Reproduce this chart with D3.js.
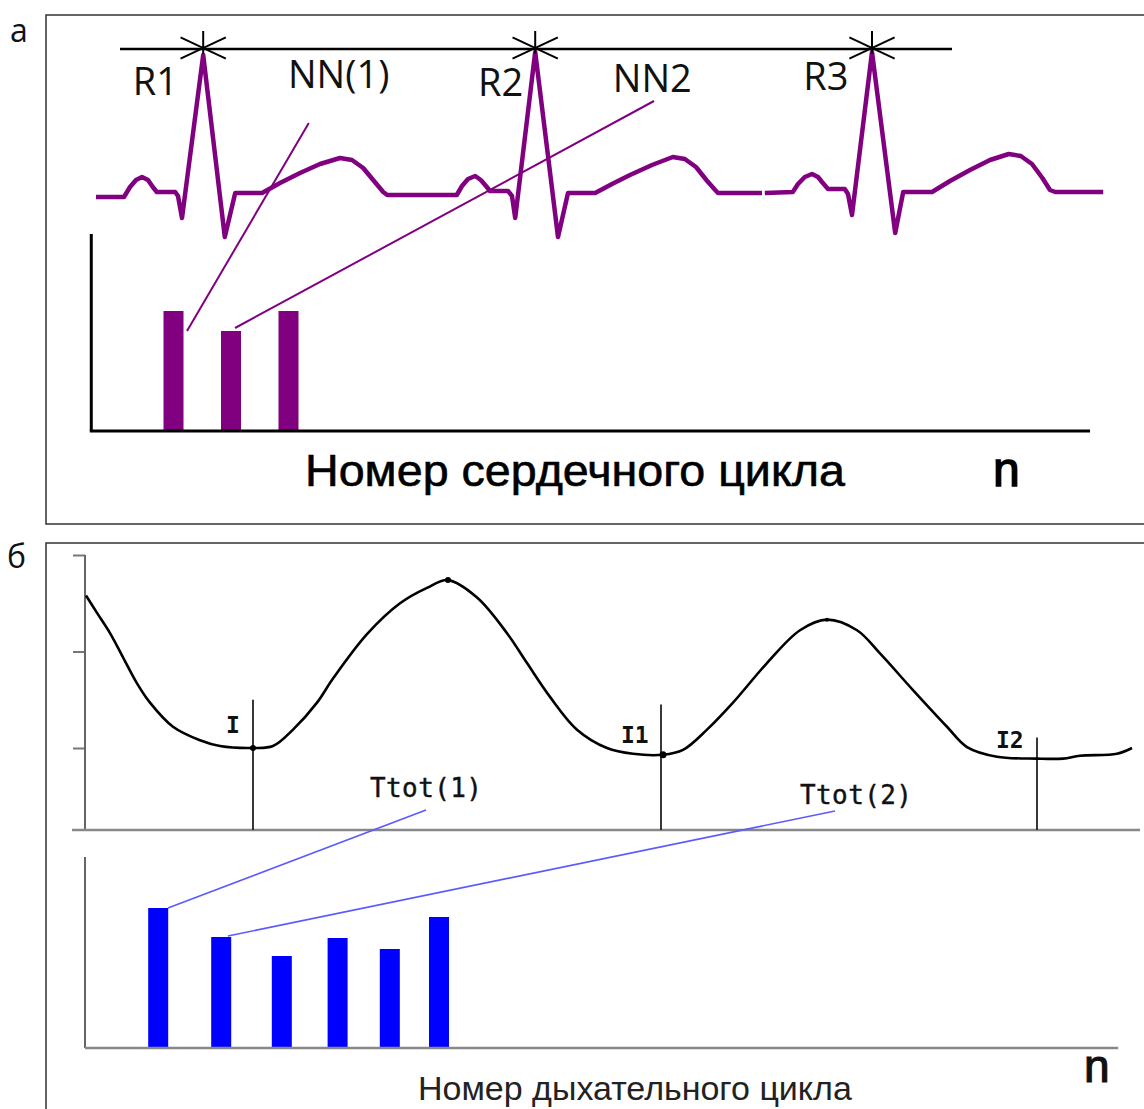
<!DOCTYPE html>
<html>
<head>
<meta charset="utf-8">
<script src="https://cdn.jsdelivr.net/npm/d3@7"></script>
<style>
html,body{margin:0;padding:0;background:#fff;}
svg{display:block;}
</style>
</head>
<body>
<script>
// ---------- DATA ----------
// Panel а: ECG (time ms, amplitude mV); null = gap in trace
const ecgTime = [0,70,85,100,115,130,142,152,198,205,215,268,322,348,415,460,510,560,610,640,668,695,718,728,
  902,915,930,948,962,975,985,1030,1040,1048,1098,1155,1180,1248,1290,1335,1390,1442,1472,1500,1528,1548,1555,1665,null,
  1672,1742,1755,1772,1790,1805,1815,1830,1872,1880,1890,1940,1998,2018,2090,2135,2185,2235,2282,2312,2340,2366,2385,2398,2518];
const ecgVolt = [-0.02,-0.02,0.08,0.15,0.18,0.15,0.08,0.03,0.03,-0.01,-0.23,1.40,-0.42,0.02,0.02,0.12,0.22,0.31,0.37,0.35,0.27,0.14,0.03,0.0,
  0.0,0.09,0.16,0.19,0.15,0.09,0.04,0.04,-0.01,-0.23,1.43,-0.42,0.02,0.02,0.11,0.20,0.30,0.38,0.36,0.28,0.14,0.05,0.02,0.02,null,
  0.02,0.03,0.11,0.18,0.21,0.18,0.13,0.06,0.06,0.01,-0.20,1.43,-0.38,0.03,0.03,0.14,0.25,0.35,0.41,0.39,0.31,0.17,0.05,0.03,0.03];
const rPeakTimes = [268, 1098, 1940];
const rLevel = 1.46;              // level of the R-detection line
const rLineSpan = [60, 2140];
const rLabels = ["R1", "R2", "R3"];
const rLabelPos = [[92, 1.0], [955, 0.99], [1768, 1.05]];
const nnLabels = ["NN(1)", "NN2"];
const nnLabelPos = [[480, 1.07], [1292, 1.03]];
// NN interval bars
const nnCycles = [1, 2, 3];
const nnValues = [0.96, 0.80, 0.96];
// links: [ecg t, ecg v, cycle n, bar value]
const nnLinks = [[532, 0.72, 1.235, 0.80], [1395, 0.94, 2.07, 0.824]];

// Panel б: respiration (time s, volume units)
const respTime = [0,0.11,0.24,0.37,0.51,0.64,0.87,1.14,1.34,1.67,1.87,2.07,2.31,2.47,2.81,3.14,3.41,3.62,3.91,4.21,4.41,4.64,4.91,5.21,5.47,5.77,5.97,6.21,6.47,6.81,7.14,7.41,7.71,7.94,8.27,8.61,8.81,9.11,9.51,9.77,9.94,10.31,10.46];
const respVol  = [2.58,2.40,2.19,1.94,1.67,1.47,1.22,1.08,1.02,1.00,1.02,1.19,1.47,1.72,2.18,2.50,2.66,2.74,2.56,2.19,1.88,1.53,1.19,1.00,0.94,0.93,0.98,1.19,1.47,1.88,2.22,2.33,2.22,1.98,1.60,1.22,1.01,0.91,0.89,0.89,0.92,0.94,1.00];
const respTicks = [1, 2, 3];
const respBase = 0.15;
const inspLabels = ["I", "I1", "I2"];
const inspTimes = [1.67, 5.75, 9.51];
const inspMarkTop = [1.50, 1.45, 1.11];
const inspLabelPos = [[1.40, 1.155], [5.35, 1.05], [9.10, 1.0]];
const respDots = [[1.67, 1.00, 3], [3.62, 2.74, 3], [5.77, 0.93, 3.5], [7.41, 2.33, 2]];
const ttotLabels = ["Ttot(1)", "Ttot(2)"];
const ttotLabelPos = [[2.84, 0.49], [7.14, 0.42]];
// Ttot bars
const ttotCycles = [1.22, 2.27, 3.28, 4.21, 5.08, 5.90];
const ttotValues = [5.6, 4.44, 3.68, 4.4, 3.96, 5.24];
const ttotLinks = [[3.40, 0.357, 1.383, 5.6], [7.49, 0.347, 2.383, 4.48]];

// ---------- DRAWING ----------
const W = 1144, H = 1109;
const svg = d3.select("body").append("svg").attr("width", W).attr("height", H);
const purple = "#800080", blue = "#0000ff", linkBlue = "#5a5aff";

// panel frames
svg.append("rect").attr("x", 46).attr("y", 15).attr("width", 1120).attr("height", 509)
  .attr("fill", "none").attr("stroke", "#333").attr("stroke-width", 1.5);
svg.append("rect").attr("x", 46).attr("y", 543).attr("width", 1120).attr("height", 600)
  .attr("fill", "none").attr("stroke", "#333").attr("stroke-width", 1.5);
svg.append("text").attr("x", 10).attr("y", 42).text("а")
  .style("font-family", "Open Sans").style("font-size", "32px").attr("fill", "#111");
svg.append("text").attr("x", 7).attr("y", 568).text("б")
  .style("font-family", "Open Sans").style("font-size", "32px").attr("fill", "#111");

// ---- Panel а ----
const xT = d3.scaleLinear().domain([0, 2517.5]).range([96, 1103]);
const yV = d3.scaleLinear().domain([0, 1]).range([195, 95]);
const xN = d3.scaleLinear().domain([0, 1]).range([116, 173.5]);
const yN = d3.scaleLinear().domain([0, 1]).range([431, 306]);

// R detection line
svg.append("line").attr("x1", xT(rLineSpan[0])).attr("x2", xT(rLineSpan[1]))
  .attr("y1", yV(rLevel)).attr("y2", yV(rLevel)).attr("stroke", "#000").attr("stroke-width", 2.5);

// ECG trace
const ecg = ecgTime.map((t, i) => [t, ecgVolt[i]]);
svg.append("path").datum(ecg)
  .attr("d", d3.line().defined(d => d[0] !== null).x(d => xT(d[0])).y(d => yV(d[1])))
  .attr("fill", "none").attr("stroke", purple).attr("stroke-width", 4.5)
  .attr("stroke-linejoin", "round");

// asterisks
rPeakTimes.forEach(t => {
  const cx = xT(t), cy = yV(rLevel) - 1;
  const g = svg.append("g").attr("stroke", "#000").attr("stroke-width", 2);
  g.append("line").attr("x1", cx).attr("x2", cx).attr("y1", cy - 17).attr("y2", cy + 6);
  const a = 25 * Math.PI / 180, L = 25;
  g.append("line").attr("x1", cx - L * Math.cos(a)).attr("y1", cy - L * Math.sin(a))
    .attr("x2", cx + L * Math.cos(a)).attr("y2", cy + L * Math.sin(a));
  g.append("line").attr("x1", cx - L * Math.cos(a)).attr("y1", cy + L * Math.sin(a))
    .attr("x2", cx + L * Math.cos(a)).attr("y2", cy - L * Math.sin(a));
});

// labels
rLabels.forEach((s, i) => svg.append("text").attr("x", xT(rLabelPos[i][0])).attr("y", yV(rLabelPos[i][1]))
  .text(s).style("font-family", "Open Sans").style("font-size", "38px").attr("fill", "#111"));
nnLabels.forEach((s, i) => svg.append("text").attr("x", xT(nnLabelPos[i][0])).attr("y", yV(nnLabelPos[i][1]))
  .text(s).style("font-family", "Open Sans").style("font-size", "38px").attr("fill", "#111"));

// NN bars
svg.selectAll(".nnbar").data(nnCycles).enter().append("rect")
  .attr("x", d => xN(d) - 10).attr("width", 20)
  .attr("y", (d, i) => yN(nnValues[i])).attr("height", (d, i) => yN(0) - yN(nnValues[i]))
  .attr("fill", purple);

// NN axes
svg.append("line").attr("x1", xN(-0.43)).attr("x2", xN(-0.43)).attr("y1", yN(0)).attr("y2", yN(1.576))
  .attr("stroke", "#000").attr("stroke-width", 3);
svg.append("line").attr("x1", xN(-0.43) - 1.5).attr("x2", xN(16.94)).attr("y1", yN(0)).attr("y2", yN(0))
  .attr("stroke", "#000").attr("stroke-width", 3);

// NN links
nnLinks.forEach(l => svg.append("line").attr("x1", xT(l[0])).attr("y1", yV(l[1]))
  .attr("x2", xN(l[2])).attr("y2", yN(l[3])).attr("stroke", purple).attr("stroke-width", 2));

svg.append("text").attr("x", 305).attr("y", 486).text("Номер сердечного цикла")
  .attr("textLength", 540).attr("lengthAdjust", "spacingAndGlyphs")
  .style("font-family", "Liberation Sans").style("font-size", "44px")
  .attr("fill", "#000").attr("stroke", "#000").attr("stroke-width", 0.6);
svg.append("text").attr("x", 993).attr("y", 486).text("n")
  .style("font-family", "Liberation Sans").style("font-size", "48px")
  .attr("fill", "#000").attr("stroke", "#000").attr("stroke-width", 1.4);

// ---- Panel б ----
const xR = d3.scaleLinear().domain([0, 1]).range([86, 186]);
const yR = d3.scaleLinear().domain([1, 3]).range([748, 555]);
const xB = d3.scaleLinear().domain([0, 1]).range([85, 145]);
const yB = d3.scaleLinear().domain([0, 1]).range([1048, 1023]);

// resp axes
svg.append("g").attr("transform", `translate(${xR(-0.01)},0)`)
  .call(d3.axisLeft(yR).tickValues(respTicks).tickSize(12).tickSizeOuter(0).tickFormat(""))
  .call(g => g.select(".domain").remove())
  .call(g => g.selectAll("line").attr("stroke", "#777").attr("stroke-width", 2));
svg.append("line").attr("x1", xR(-0.01)).attr("x2", xR(-0.01)).attr("y1", yR(respBase)).attr("y2", yR(3))
  .attr("stroke", "#666").attr("stroke-width", 2);
svg.append("line").attr("x1", xR(-0.14)).attr("x2", xR(10.54)).attr("y1", yR(respBase)).attr("y2", yR(respBase))
  .attr("stroke", "#888").attr("stroke-width", 2.5);

// inspiration markers
inspTimes.forEach((t, i) => svg.append("line").attr("x1", xR(t)).attr("x2", xR(t))
  .attr("y1", yR(inspMarkTop[i])).attr("y2", yR(respBase)).attr("stroke", "#222").attr("stroke-width", 1.8));

// resp curve
const resp = respTime.map((t, i) => [t, respVol[i]]);
svg.append("path").datum(resp)
  .attr("d", d3.line().curve(d3.curveCatmullRom).x(d => xR(d[0])).y(d => yR(d[1])))
  .attr("fill", "none").attr("stroke", "#000").attr("stroke-width", 2.6);
respDots.forEach(d => svg.append("circle").attr("cx", xR(d[0])).attr("cy", yR(d[1])).attr("r", d[2]).attr("fill", "#000"));

inspLabels.forEach((s, i) => svg.append("text").attr("x", xR(inspLabelPos[i][0])).attr("y", yR(inspLabelPos[i][1]))
  .text(s).style("font-family", "DejaVu Sans Mono").style("font-weight", "bold").style("font-size", "23px").attr("fill", "#111"));
ttotLabels.forEach((s, i) => svg.append("text").attr("x", xR(ttotLabelPos[i][0])).attr("y", yR(ttotLabelPos[i][1]))
  .text(s).attr("textLength", 112).style("font-family", "DejaVu Sans Mono").style("font-size", "26px")
  .attr("fill", "#111").attr("stroke", "#111").attr("stroke-width", 0.4));

// Ttot bars
svg.selectAll(".tbar").data(ttotCycles).enter().append("rect")
  .attr("x", d => xB(d) - 10).attr("width", 20)
  .attr("y", (d, i) => yB(ttotValues[i])).attr("height", (d, i) => yB(0) - yB(ttotValues[i]))
  .attr("fill", blue);
svg.append("line").attr("x1", xB(0)).attr("x2", xB(0)).attr("y1", yB(0)).attr("y2", yB(7.64))
  .attr("stroke", "#666").attr("stroke-width", 2);
svg.append("line").attr("x1", xB(0)).attr("x2", xB(17.22)).attr("y1", yB(0)).attr("y2", yB(0))
  .attr("stroke", "#888").attr("stroke-width", 2.5);

ttotLinks.forEach(l => svg.append("line").attr("x1", xR(l[0])).attr("y1", yR(l[1]))
  .attr("x2", xB(l[2])).attr("y2", yB(l[3])).attr("stroke", linkBlue).attr("stroke-width", 1.6));

svg.append("text").attr("x", 418).attr("y", 1100).text("Номер дыхательного цикла")
  .style("font-family", "Liberation Sans").style("font-size", "34px").attr("fill", "#222");
svg.append("text").attr("x", 1084).attr("y", 1082).text("n")
  .style("font-family", "Liberation Sans").style("font-size", "46px")
  .attr("fill", "#111").attr("stroke", "#111").attr("stroke-width", 1.2);
</script>
</body>
</html>
